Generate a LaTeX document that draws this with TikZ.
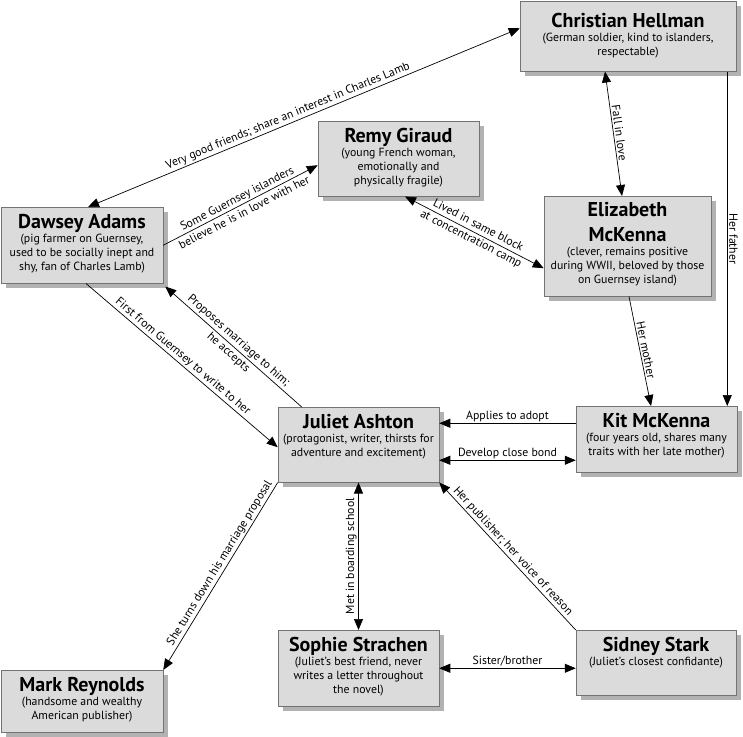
\documentclass[tikz,border=0pt]{standalone}
\usepackage{fontspec}
\setmainfont{PT Sans}
\usetikzlibrary{arrows.meta,shadows,calc}

\newcommand\who[1]{{\fontsize{20}{22}\selectfont\bfseries #1}}

\begin{document}
\begin{tikzpicture}[x=1pt,y=-1pt,>={Triangle[length=11pt,width=9pt]},
	person/.style={draw=black!55, line width=0.5pt, fill=black!14, align=center,
		font=\fontsize{11.8}{14}\selectfont, anchor=north, inner xsep=2pt, inner ysep=0pt,
		drop shadow={shadow xshift=4.5pt, shadow yshift=-4.5pt, fill=black!30, opacity=1}},
	rel/.style={line width=0.7pt},
	lab/.style={font=\fontsize{11.8}{13.5}\selectfont, inner sep=1.5pt},
	twolab/.style={lab, sloped, align=center, font=\fontsize{11.8}{15.5}\selectfont}]
	
	\useasboundingbox (0,0) rectangle (743,736);
	
	% ======================================================
	% People (text height = top to last baseline)
	% ======================================================
	\node[person, minimum width=216pt, text height=54pt, text depth=16pt] (christian) at (628,1)
	{\who{Christian Hellman}\\(German soldier, kind to islanders,\\respectable)};
	
	\node[person, minimum width=161pt, text height=63.5pt, text depth=11.5pt] (remy) at (398.5,121)
	{\who{Remy Giraud}\\(young French woman,\\emotionally and\\physically fragile)};
	
	\node[person, minimum width=162pt, text height=63.5pt, text depth=12.5pt] (dawsey) at (82,207)
	{\who{Dawsey Adams}\\(pig farmer on Guernsey,\\used to be socially inept and\\shy, fan of Charles Lamb)};
	
	\node[person, minimum width=167pt, text height=87.5pt, text depth=12.5pt] (elizabeth) at (627.5,196)
	{\who{Elizabeth}\\[10pt]\who{McKenna}\\(clever, remains positive\\during WWII, beloved by those\\on Guernsey island)};
	
	\node[person, minimum width=161pt, text height=49.5pt, text depth=25.5pt] (juliet) at (358.5,407)
	{\who{Juliet Ashton}\\(protagonist, writer, thirsts for\\adventure and excitement)};
	
	\node[person, minimum width=161pt, text height=49.5pt, text depth=16.5pt] (kit) at (656.5,406)
	{\who{Kit McKenna}\\(four years old, shares many\\traits with her late mother)};
	
	\node[person, minimum width=161pt, text height=63.5pt, text depth=12.5pt] (sophie) at (358.5,630)
	{\who{Sophie Strachen}\\(Juliet's best friend, never\\writes a letter throughout\\the novel)};
	
	\node[person, minimum width=160pt, text height=35.5pt, text depth=29.5pt] (sidney) at (656,630)
	{\who{Sidney Stark}\\(Juliet's closest confidante)};
	
	\node[person, minimum width=162pt, text height=49.5pt, text depth=12.5pt] (mark) at (82,670)
	{\who{Mark Reynolds}\\(handsome and wealthy\\American publisher)};
	
	% ======================================================
	% Relations
	% ======================================================
	\draw[rel,<->] ($(dawsey.north)+(6,0)$) -- node[lab,sloped,above,pos=0.47]
	{Very good friends; share an interest in Charles Lamb} ($(christian.west)+(0,-8)$);
	
	\draw[rel,->] (dawsey.east) -- node[twolab,pos=0.5]
	{Some Guernsey islanders\\believe he is in love with her} ($(remy.west)+(0,6.5)$);
	
	\draw[rel,<->] ($(remy.south)+(6.5,0)$) -- node[twolab,pos=0.5]
	{Lived in same block\\at concentration camp} ($(elizabeth.west)+(0,22)$);
	
	\draw[rel,<->] ($(christian.south)+(-23,0)$) -- node[lab,sloped,above]
	{Fall in love} ($(elizabeth.north)+(-5.5,0)$);
	
	\coordinate (fa) at ($(christian.south east)+(-9,0)$);
	\draw[rel,->] (fa) -- node[lab,above,rotate=-90] {Her father} (fa |- kit.north);
	
	\draw[rel,->] ($(elizabeth.south)+(1.5,0)$) -- node[lab,sloped,above]
	{Her mother} ($(kit.north)+(-5.5,0)$);
	
	\draw[rel,->] ($(dawsey.south)+(4,0)$) -- node[lab,sloped,above,pos=0.48]
	{First from Guernsey to write to her} ($(juliet.west)+(0,2.5)$);
	
	\draw[rel,->] ($(juliet.north west)+(24,0)$) -- node[twolab]
	{Proposes marriage to him;\\he accepts} ($(dawsey.south east)+(2,3)$);
	
	\draw[rel,->] ($(kit.west)+(0,-16)$) -- node[lab,above]
	{Applies to adopt} ($(juliet.east)+(0,-21.5)$);
	
	\draw[rel,<->] ($(juliet.east)+(0,15.5)$) -- node[lab,above]
	{Develop close bond} ($(kit.west)+(0,21)$);
	
	\draw[rel,<->] (sophie.north) -- node[lab,above,rotate=90]
	{Met in boarding school} (juliet.south);
	
	\draw[rel,->] (sidney.north west) -- node[lab,sloped,above]
	{Her publisher; her voice of reason} (juliet.south east);
	
	\draw[rel,<->] (sophie.east) -- node[lab,above]
	{Sister/brother} ($(sidney.west)+(0,5.5)$);
	
	\draw[rel,->] (juliet.south west) -- node[lab,sloped,above,pos=0.45]
	{She turns down his marriage proposal} (mark.north east);
	
\end{tikzpicture}
\end{document}
